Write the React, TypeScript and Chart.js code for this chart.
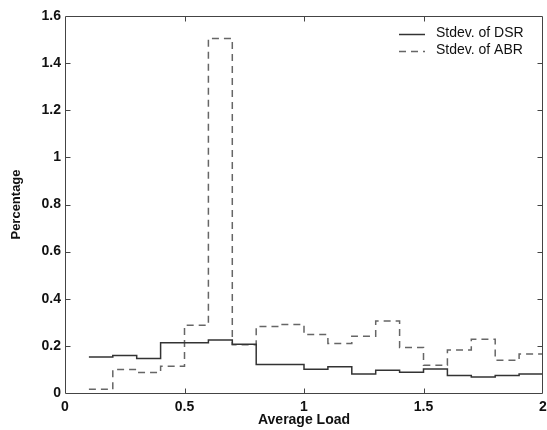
import { useEffect, useRef } from "react";
import { Chart, registerables } from "chart.js";

Chart.register(...registerables);

// Bin edges of the average-load axis; each value holds from its edge to the next one.
const binEdges = [0.1, 0.2, 0.3, 0.4, 0.5, 0.6, 0.7, 0.8, 0.9, 1.0, 1.1, 1.2, 1.3, 1.4, 1.5, 1.6, 1.7, 1.8, 1.9, 2.0];

// Standard deviation per load bin (percentage).
const dsrStdev = [0.153, 0.159, 0.146, 0.213, 0.213, 0.225, 0.207, 0.121, 0.121, 0.101, 0.111, 0.081, 0.097, 0.088, 0.102, 0.074, 0.068, 0.074, 0.081];
const abrStdev = [0.016, 0.1, 0.087, 0.114, 0.288, 1.505, 0.205, 0.282, 0.291, 0.248, 0.21, 0.241, 0.306, 0.193, 0.118, 0.183, 0.228, 0.139, 0.166];

const seriesLabels = ["Stdev. of DSR", "Stdev. of ABR"];
const xTicks = [0, 0.5, 1, 1.5, 2];
const yTicks = [0, 0.2, 0.4, 0.6, 0.8, 1, 1.2, 1.4, 1.6];

const FONT = "'Liberation Sans', Arial, Helvetica, sans-serif";

// Each bin's value is repeated at the next edge so the final bin reaches x = 2.
function stepPoints(values: number[]) {
  return binEdges.map((x, i) => ({ x, y: values[Math.max(0, i - 1)] }));
}

// Box around the plot with inward tick marks on all four sides.
const framePlugin = {
  id: "frame",
  afterDatasetsDraw(chart: any) {
    const { ctx, chartArea } = chart;
    const { left, right, top, bottom } = chartArea;
    const xs = chart.scales.x;
    const ys = chart.scales.y;
    const L = Math.round(left) + 0.5;
    const R = Math.round(right) - 0.5;
    const T = Math.round(top) + 0.5;
    const B = Math.round(bottom) + 0.5;
    ctx.save();
    ctx.strokeStyle = "#444";
    ctx.lineWidth = 1;
    ctx.beginPath();
    ctx.rect(L, T, R - L, B - T);
    const len = 5;
    xTicks.forEach((v) => {
      const px = Math.round(xs.getPixelForValue(v)) + 0.5;
      if (px <= L + 1 || px >= R - 1) return;
      ctx.moveTo(px, B);
      ctx.lineTo(px, B - len);
      ctx.moveTo(px, T);
      ctx.lineTo(px, T + len);
    });
    yTicks.forEach((v) => {
      const py = Math.round(ys.getPixelForValue(v)) + 0.5;
      if (py <= T + 1 || py >= B - 1) return;
      ctx.moveTo(L, py);
      ctx.lineTo(L + len, py);
      ctx.moveTo(R, py);
      ctx.lineTo(R - len, py);
    });
    ctx.stroke();
    ctx.restore();
  },
};

// Boxless legend in the upper right corner of the plot.
const legendPlugin = {
  id: "cornerLegend",
  afterDraw(chart: any) {
    const { ctx, chartArea } = chart;
    const textX = chartArea.right - 107;
    const sampleEnd = textX - 11;
    const sampleStart = sampleEnd - 26;
    ctx.save();
    ctx.font = `14px ${FONT}`;
    ctx.textBaseline = "middle";
    ctx.textAlign = "left";
    chart.data.datasets.forEach((ds: any, i: number) => {
      const y = chartArea.top + 17.5 + i * 17;
      ctx.strokeStyle = ds.borderColor;
      ctx.lineWidth = ds.borderWidth;
      ctx.setLineDash(ds.borderDash || []);
      ctx.beginPath();
      ctx.moveTo(sampleStart, Math.round(y) + 0.5);
      ctx.lineTo(sampleEnd, Math.round(y) + 0.5);
      ctx.stroke();
      ctx.setLineDash([]);
      ctx.fillStyle = "#111";
      ctx.fillText(ds.label, textX, y);
    });
    ctx.restore();
  },
};

const fmt = (v: number) => String(Math.round(v * 10) / 10);

export default function App() {
  const canvasRef = useRef<HTMLCanvasElement | null>(null);

  useEffect(() => {
    const canvas = canvasRef.current;
    if (!canvas) return;
    const chart = new Chart(canvas, {
      type: "line",
      data: {
        datasets: [
          {
            label: seriesLabels[0],
            data: stepPoints(dsrStdev),
            stepped: "after",
            borderColor: "#333",
            borderWidth: 1.5,
            pointRadius: 0,
            fill: false,
          },
          {
            label: seriesLabels[1],
            data: stepPoints(abrStdev),
            stepped: "after",
            borderColor: "#666",
            borderWidth: 1.5,
            borderDash: [7, 5],
            pointRadius: 0,
            fill: false,
          },
        ],
      },
      options: {
        responsive: false,
        animation: false,
        devicePixelRatio: 1,
        layout: { padding: { top: 16, right: 4, left: 0, bottom: 0 } },
        plugins: {
          legend: { display: false },
          tooltip: { enabled: false },
        },
        scales: {
          x: {
            type: "linear",
            min: 0,
            max: 2,
            afterFit: (s: any) => {
              s.height = 37;
              s.paddingLeft = 0;
              s.paddingRight = 0;
            },
            afterBuildTicks: (s: any) => {
              s.ticks = xTicks.map((value) => ({ value }));
            },
            grid: { display: false, drawTicks: false },
            border: { display: false },
            ticks: {
              padding: 6,
              color: "#111",
              font: { family: FONT, size: 14, weight: "bold" },
              maxRotation: 0,
              callback: (v: any) => fmt(Number(v)),
            },
            title: {
              display: true,
              text: "Average Load",
              color: "#111",
              font: { family: FONT, size: 14, weight: "bold" },
              padding: { top: 0, bottom: 1 },
            },
          },
          y: {
            type: "linear",
            min: 0,
            max: 1.6,
            afterFit: (s: any) => {
              s.width = 65;
              s.paddingTop = 0;
              s.paddingBottom = 0;
            },
            afterBuildTicks: (s: any) => {
              s.ticks = yTicks.map((value) => ({ value }));
            },
            grid: { display: false, drawTicks: false },
            border: { display: false },
            ticks: {
              padding: 4,
              color: "#111",
              font: { family: FONT, size: 14, weight: "bold" },
              callback: (v: any) => fmt(Number(v)),
            },
            title: {
              display: true,
              text: "Percentage",
              color: "#111",
              font: { family: FONT, size: 13, weight: "bold" },
              padding: { top: 9, bottom: 0 },
            },
          },
        },
      },
      plugins: [framePlugin, legendPlugin],
    });
    return () => chart.destroy();
  }, []);

  return (
    <div style={{ position: "absolute", left: 0, top: 0, width: 547, height: 430, background: "#fff" }}>
      <canvas ref={canvasRef} width={547} height={430} />
    </div>
  );
}
